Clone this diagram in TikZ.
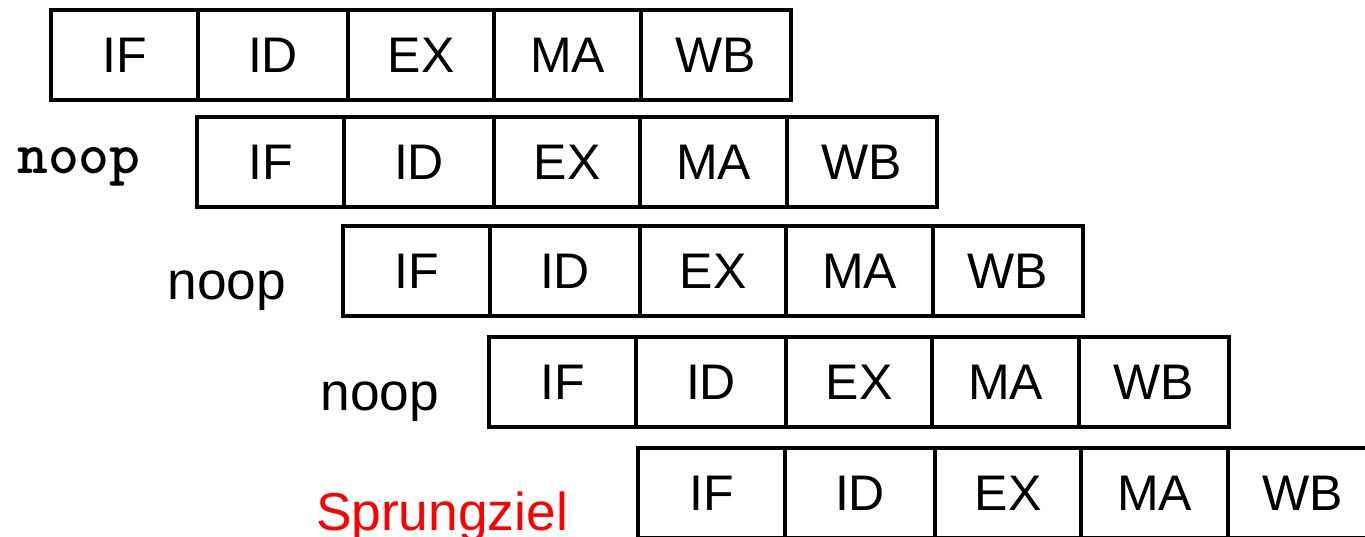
\documentclass[tikz,border=0pt]{standalone}
\usepackage{fontspec}
\setmainfont{Liberation Sans}
\usepackage{xcolor}
\usetikzlibrary{positioning}

\begin{document}
\begin{tikzpicture}[
  x=0.75pt, y=-0.75pt,
  node distance=0pt,
  every node/.style={font=\fontsize{37.5}{45}\selectfont},
  stage/.style={rectangle, draw=black, line width=3pt, outer sep=0pt, inner sep=0pt, minimum height=67.5pt},
  lbl/.style={anchor=base, font=\fontsize{40}{48}\selectfont}
]
\useasboundingbox (0,0) rectangle (1365,536);
\foreach \r/\x/\y in {1/51/55, 2/197/162, 3/343/271, 4/489/382, 5/638/493} {
  \node[stage, anchor=west, minimum width=110.25pt] (if\r) at (\x,\y) {IF};
  \node[stage, right=of if\r, minimum width=112.5pt] (id\r) {ID};
  \node[stage, right=of id\r, minimum width=109.5pt] (ex\r) {EX};
  \node[stage, right=of ex\r, minimum width=110.25pt] (ma\r) {MA};
  \node[stage, right=of ma\r, minimum width=112.5pt] (wb\r) {WB};
}
\node[lbl, font=\ttfamily\bfseries\fontsize{44}{52}\selectfont] (noop2) at (79,173) {noop};
\node[lbl] (noop3) at (227,299) {noop};
\node[lbl] (noop4) at (380,410) {noop};
\node[lbl, text=red] (ziel) at (442,530) {Sprungziel};
\end{tikzpicture}
\end{document}
